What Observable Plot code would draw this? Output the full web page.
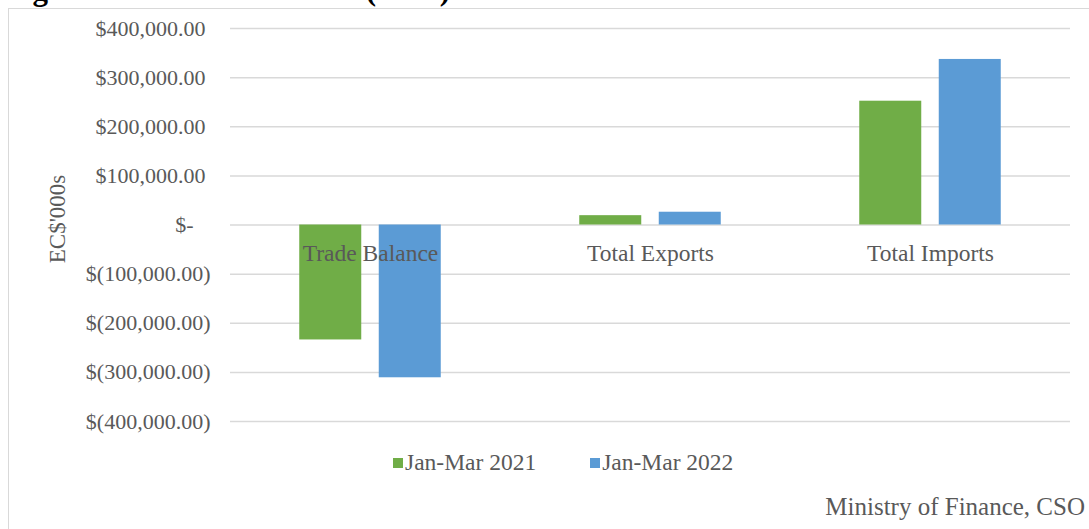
<!DOCTYPE html>
<html>
<head>
<meta charset="utf-8">
<script src="https://cdn.jsdelivr.net/npm/d3@7"></script>
<script src="https://cdn.jsdelivr.net/npm/@observablehq/plot@0.6"></script>
<style>
  html, body { margin: 0; padding: 0; background: #fff; }
  #wrap { position: relative; width: 1089px; height: 529px; overflow: hidden; font-family: "Liberation Serif", serif; }
  #title { position: absolute; left: 5px; top: -26px; font-size: 31px; line-height: 31px; font-weight: bold; color: #000; white-space: nowrap; }
  #frame { position: absolute; left: 8px; top: 8px; width: 1200px; height: 700px; border: 1px solid #d9d9d9; box-sizing: border-box; background: #fff; }
  #chart { position: absolute; left: 0; top: 0; }
  #legend { position: absolute; left: 393px; top: 449px; display: flex; align-items: center; font-size: 23.5px; color: #595959; white-space: nowrap; }
  #legend .item { display: flex; align-items: center; }
  #legend .sw { width: 10px; height: 10px; margin-right: 2px; }
  #caption { position: absolute; right: 4px; top: 493px; font-size: 25px; color: #595959; white-space: nowrap; }
</style>
</head>
<body>
<div id="wrap">
  <div id="title"></div>
  <div id="frame"></div>
  <div id="chart"></div>
  <div id="legend"></div>
  <div id="caption"></div>
</div>
<script>
// ---- data ----
const categories = ["Trade Balance", "Total Exports", "Total Imports"];
const seriesNames = ["Jan-Mar 2021", "Jan-Mar 2022"];
const values2021 = [-234000, 19000, 252000];
const values2022 = [-311000, 26000, 337000];
const seriesColors = ["#70AD47", "#5B9BD5"];
const yTicks = [400000, 300000, 200000, 100000, 0, -100000, -200000, -300000, -400000];
const titleText = "Figure 1: Balance of Trade (CSO)";
const yLabel = "EC$'000s";
const captionText = "Ministry of Finance, CSO";

const seriesValues = [values2021, values2022];
const rows = [];
seriesNames.forEach((s, i) => categories.forEach((c, j) => rows.push({category: c, series: s, value: seriesValues[i][j]})));

const fmtNum = d3.format(",.2f");
const fmt = d => d === 0 ? "$-" : d > 0 ? "$" + fmtNum(d) : "$(" + fmtNum(-d) + ")";

const textColor = "#595959";
const step = 79.5;

const barMarks = seriesNames.map((s, i) => Plot.barY(rows.filter(r => r.series === s), {
  x: "category", y: "value", fill: seriesColors[i],
  insetLeft: 109, insetRight: 109, dx: (i - 0.5) * step
}));

const chart = Plot.plot({
  width: 1089,
  height: 440,
  marginLeft: 230,
  marginRight: 19,
  marginTop: 28,
  marginBottom: 19,
  style: {fontFamily: "Liberation Serif, serif", background: "transparent"},
  x: {domain: categories, padding: 0, axis: null},
  y: {domain: [-400000, 400000], axis: null},
  marks: [
    Plot.ruleY(yTicks, {stroke: "#d9d9d9", strokeWidth: 1.5}),
    ...barMarks,
    Plot.text(yTicks.filter(d => d > 0), {y: d => d, text: fmt, frameAnchor: "left", textAnchor: "end", dx: -25, fill: textColor, fontSize: 22}),
    Plot.text(yTicks.filter(d => d < 0), {y: d => d, text: fmt, frameAnchor: "left", textAnchor: "end", dx: -20, fill: textColor, fontSize: 22}),
    Plot.text(yTicks.filter(d => d === 0), {y: d => d, text: fmt, frameAnchor: "left", textAnchor: "end", dx: -37, fill: textColor, fontSize: 22}),
    Plot.text(categories, {x: d => d, y: 0, text: d => d, dy: 28, fill: textColor, fontSize: 23.5}),
    Plot.text([yLabel], {frameAnchor: "left", text: d => d, rotate: -90, textAnchor: "middle", dx: -173, dy: -6, fill: textColor, fontSize: 23})
  ]
});
document.getElementById("chart").appendChild(chart);

document.getElementById("title").textContent = titleText;
document.getElementById("caption").textContent = captionText;
const legend = document.getElementById("legend");
seriesNames.forEach((s, i) => {
  const item = document.createElement("div");
  item.className = "item";
  if (i > 0) item.style.marginLeft = "54px";
  const sw = document.createElement("div");
  sw.className = "sw";
  sw.style.background = seriesColors[i];
  const t = document.createElement("span");
  t.textContent = s;
  item.appendChild(sw);
  item.appendChild(t);
  legend.appendChild(item);
});
</script>
</body>
</html>
